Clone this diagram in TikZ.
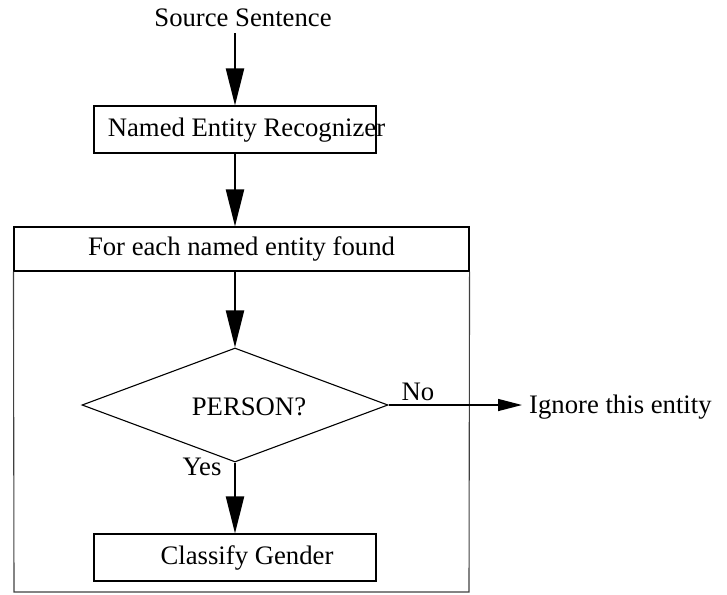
\documentclass[tikz,border=0pt]{standalone}
\usepackage{fontspec}
\setmainfont{Liberation Serif}
\usetikzlibrary{arrows.meta,shapes.geometric}

\begin{document}
\begin{tikzpicture}[x=1pt,y=-1pt,font=\fontsize{26.7}{32}\selectfont,
 blk/.style={draw,rectangle,line width=1.1pt,inner sep=0pt},
 dec/.style={draw,diamond,line width=1.1pt,inner sep=0pt,minimum width=306pt,minimum height=114pt},
 txt/.style={inner sep=0pt},
 flow/.style={-{Triangle[length=37pt,width=18pt]},line width=2.2pt},
 flowh/.style={-{Triangle[length=24pt,width=12pt]},line width=1.4pt}]
\useasboundingbox (0,0) rectangle (727,594);
\node[txt] (src) at (243,18) {Source Sentence};
\node[blk,minimum width=282pt,minimum height=47pt] (ner) at (235,129.5) {};
\node[txt] at (246.5,130) {Named Entity Recognizer};
\node[blk,minimum width=455pt,minimum height=44pt] (hdr) at (241.5,249) {For each named entity found};
\draw[line width=1.1pt,black!75] (hdr.south west) -- (14,592) -- (469,592) -- (hdr.south east);
\node[dec] (dia) at (235,405) {};
\node[txt] at (249,407) {PERSON?};
\node[txt] at (418,392) {No};
\node[txt] at (202,467) {Yes};
\node[txt,anchor=west] (ign) at (529,407) {Ignore this entity};
\node[blk,minimum width=282pt,minimum height=47pt] (cls) at (235,557.5) {};
\node[txt] at (247,558) {Classify Gender};
\draw[flow] ([yshift=-6pt]src.south -| ner.north) -- (ner.north);
\draw[flow] (ner.south) -- (ner.south |- hdr.north);
\draw[flow] (dia.north |- hdr.south) -- (dia.north);
\draw[flow] (dia.south) -- (cls.north);
\draw[flowh] (dia.east) -- ([xshift=-7pt]dia.east -| ign.west);
\end{tikzpicture}
\end{document}
